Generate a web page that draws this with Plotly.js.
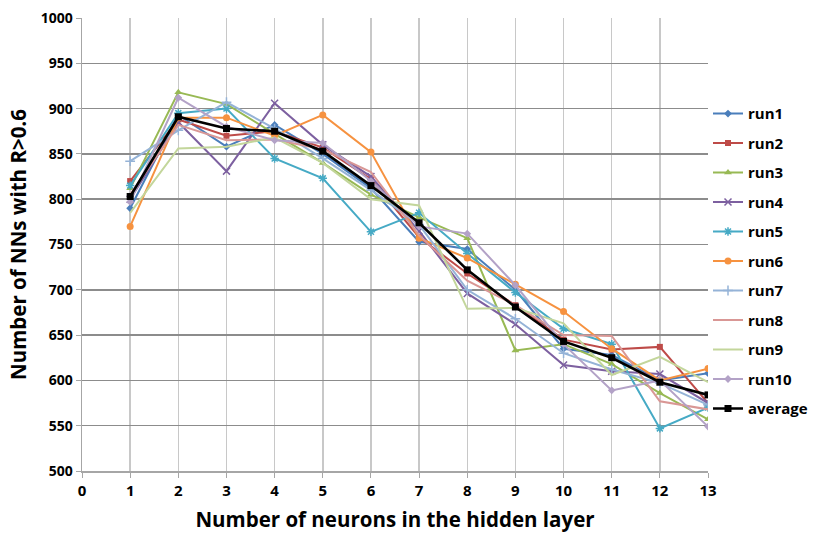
<!DOCTYPE html>
<html>
<head>
<meta charset="utf-8">
<script src="https://cdn.plot.ly/plotly-3.0.1.min.js"></script>
<style>html,body{margin:0;padding:0;background:#fff;}#chart{width:813px;height:538px;}</style>
</head>
<body>
<div id="chart"></div>
<script>
const neurons = [1,2,3,4,5,6,7,8,9,10,11,12,13];
const run1  = [790, 893, 858, 882, 850, 812, 753, 745, 700, 635, 628, 600, 608];
const run2  = [820, 888, 870, 875, 857, 822, 758, 718, 683, 645, 634, 637, 575];
const run3  = [812, 918, 905, 872, 840, 805, 780, 757, 633, 640, 618, 586, 557];
const run4  = [800, 885, 831, 906, 860, 825, 765, 696, 662, 617, 610, 607, 575];
const run5  = [815, 895, 900, 845, 823, 764, 785, 740, 697, 657, 640, 547, 570];
const run6  = [770, 890, 890, 870, 893, 852, 757, 735, 706, 676, 635, 600, 613];
const run7  = [842, 876, 907, 878, 845, 810, 772, 700, 668, 630, 612, 597, 573];
const run8  = [805, 882, 865, 866, 855, 830, 760, 710, 683, 650, 649, 577, 568];
const run9  = [785, 856, 858, 868, 840, 800, 793, 679, 680, 663, 606, 626, 598];
const run10 = [797, 912, 880, 865, 862, 820, 770, 762, 705, 640, 589, 600, 549];
const average = [803, 891, 878, 875, 853, 815, 774, 722, 681, 643, 625, 598, 584];
const xTicks = [0,1,2,3,4,5,6,7,8,9,10,11,12,13];

const series = [
  {name:'run1', y:run1, color:'#4A7EBB', symbol:'diamond', size:6},
  {name:'run2', y:run2, color:'#BE4B48', symbol:'square', size:6},
  {name:'run3', y:run3, color:'#98B954', symbol:'triangle-up', size:7},
  {name:'run4', y:run4, color:'#7D60A0', symbol:'x-thin', size:7},
  {name:'run5', y:run5, color:'#46AAC5', symbol:'asterisk', size:7},
  {name:'run6', y:run6, color:'#F69240', symbol:'circle', size:7},
  {name:'run7', y:run7, color:'#95B3D7', symbol:'cross-thin', size:7},
  {name:'run8', y:run8, color:'#D99795', symbol:null, size:0},
  {name:'run9', y:run9, color:'#C3D69B', symbol:null, size:0},
  {name:'run10', y:run10, color:'#B3A2C7', symbol:'diamond', size:6},
  {name:'average', y:average, color:'#000000', symbol:'square', size:7}
];

const traces = series.map((s,i) => {
  const t = {
    x: neurons, y: s.y, name: s.name, type:'scatter',
    legendgroup: 'g'+i,
    line: {color: s.color, width: s.name==='average' ? 2.6 : 2},
    mode: s.symbol ? 'lines+markers' : 'lines'
  };
  if (s.symbol) {
    t.marker = {symbol: s.symbol, size: s.size, color: s.color,
      line: {color: s.color, width: (s.symbol.indexOf('thin')>=0 || s.symbol==='asterisk') ? 1.5 : 0}};
  }
  return t;
});

const font = 'Open Sans, Liberation Sans, Arial, sans-serif';
const layout = {
  width: 813, height: 538,
  margin: {l: 82, r: 0, t: 18, b: 67},
  paper_bgcolor: '#ffffff', plot_bgcolor: '#ffffff',
  font: {family: font, size: 14, color: '#000', weight: 700},
  showlegend: true,
  legend: {x: 1, xanchor: 'right', y: 0.825, yanchor: 'top',
    font: {family: font, size: 15, color: '#000', weight: 700},
    tracegroupgap: 7, itemwidth: 30, bgcolor: 'rgba(0,0,0,0)'},
  xaxis: {
    domain: [0, 0.8564],
    range: [0, 13], tickvals: xTicks, ticktext: xTicks.map(String),
    showgrid: true, gridcolor: '#c8c8c8', gridwidth: 1.5,
    zeroline: false, showline: true, linecolor: '#a6a6a6', linewidth: 1.5,
    ticks: 'outside', ticklen: 5, tickcolor: '#a6a6a6',
    tickfont: {family: font, size: 15, color: '#000', weight: 700},
    title: {text: 'Number of neurons in the hidden layer', standoff: 14,
      font: {family: font, size: 20.5, color: '#000', weight: 700}}
  },
  yaxis: {
    range: [500, 1000], dtick: 50, tick0: 500,
    showgrid: true, gridcolor: '#8c8c8c', gridwidth: 1.5,
    zeroline: false, showline: true, linecolor: '#a6a6a6', linewidth: 1.5,
    ticks: 'outside', ticklen: 5, tickcolor: '#a6a6a6',
    tickfont: {family: font, size: 14, color: '#000', weight: 700},
    title: {text: 'Number of NNs with R>0.6', standoff: 8,
      font: {family: font, size: 20.5, color: '#000', weight: 700}}
  }
};

Plotly.newPlot('chart', traces, layout, {displayModeBar: false, staticPlot: true});
</script>
</body>
</html>
